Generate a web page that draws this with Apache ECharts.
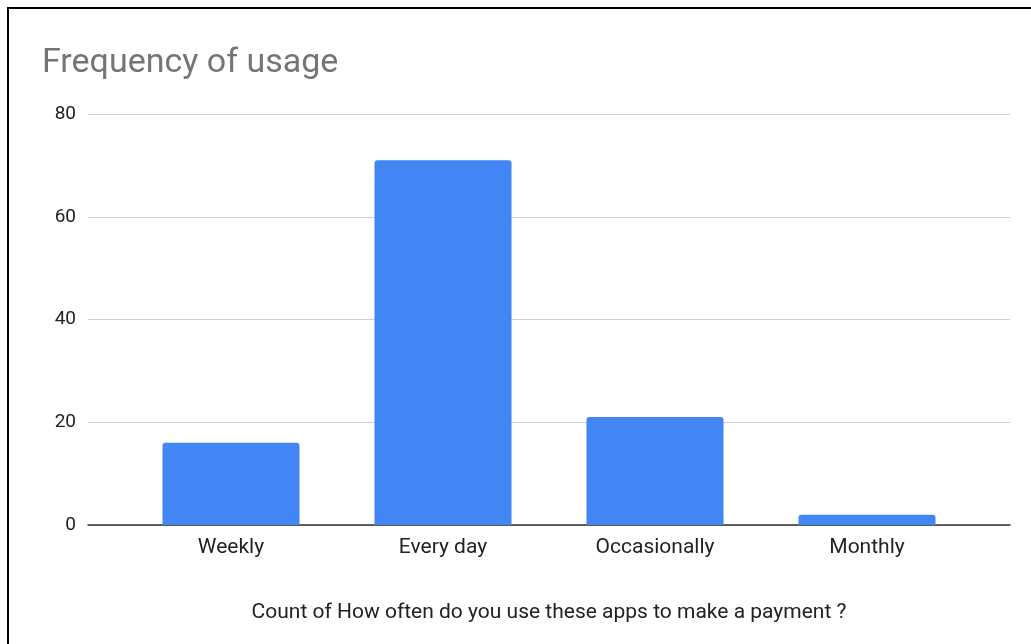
<!DOCTYPE html>
<html>
<head>
<meta charset="utf-8">
<script src="https://cdn.jsdelivr.net/npm/echarts@6/dist/echarts.min.js"></script>
<style>
  html, body { margin: 0; padding: 0; background: #fff; }
  #chart { width: 1031px; height: 644px; }
</style>
</head>
<body>
<div id="chart"></div>
<script>
// Survey answers: how often people pay with these apps
const categories = ['Weekly', 'Every day', 'Occasionally', 'Monthly'];
const counts = [16, 71, 21, 2];
const yTicks = { min: 0, max: 80, interval: 20 };
const titleText = 'Frequency of usage';
const axisTitle = 'Count of How often do you use these apps to make a payment ?';

const FONT = 'Roboto, "Liberation Sans", Arial, sans-serif';
const chart = echarts.init(document.getElementById('chart'), null, { renderer: 'canvas' });

chart.setOption({
  backgroundColor: '#ffffff',
  animation: false,
  title: {
    text: titleText,
    left: 42,
    top: 46,
    padding: 0,
    textStyle: { fontFamily: FONT, fontSize: 34, fontWeight: 'normal', color: '#757575' }
  },
  graphic: [{
    type: 'polyline',
    shape: { points: [[8, 644], [8, 8], [1031, 8]] },
    style: { stroke: '#000', lineWidth: 2, fill: null },
    z: 10
  }],
  grid: [
    // full-width frame: gridlines, value labels, baseline
    { left: 88, right: 21, top: 114, bottom: 119 },
    // inner band holding the bars
    { left: 125, right: 58, top: 114, bottom: 119 }
  ],
  xAxis: [
    {
      gridIndex: 0, type: 'value', min: 0, max: 1,
      axisLine: { show: true, onZero: false, lineStyle: { color: '#333', width: 1.5 } },
      axisTick: { show: false }, axisLabel: { show: false }, splitLine: { show: false }
    },
    {
      gridIndex: 1, type: 'category', data: categories,
      axisLine: { show: false }, axisTick: { show: false },
      axisLabel: { margin: 12, fontFamily: FONT, fontSize: 21, color: '#222' },
      name: axisTitle, nameLocation: 'middle', nameGap: 77,
      nameTextStyle: { fontFamily: FONT, fontSize: 21, color: '#222' }
    }
  ],
  yAxis: [
    {
      gridIndex: 0, type: 'value', min: yTicks.min, max: yTicks.max, interval: yTicks.interval,
      axisLine: { show: false }, axisTick: { show: false },
      axisLabel: { margin: 12, fontFamily: FONT, fontSize: 19, color: '#222' },
      splitLine: { lineStyle: { color: '#d0d0d0', width: 1 } }
    },
    {
      gridIndex: 1, type: 'value', min: yTicks.min, max: yTicks.max, interval: yTicks.interval,
      show: false
    }
  ],
  series: [{
    type: 'bar',
    xAxisIndex: 1, yAxisIndex: 1,
    data: counts,
    barWidth: 137,
    itemStyle: { color: '#4285F4', borderRadius: [3, 3, 0, 0] },
    z: 2
  }]
});
</script>
</body>
</html>
